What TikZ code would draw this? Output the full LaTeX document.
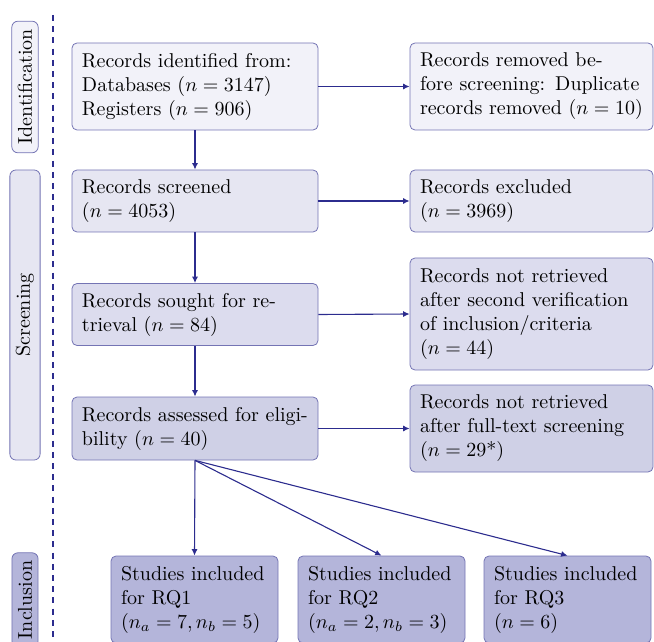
\documentclass[tikz,border=0pt]{standalone}
\usetikzlibrary{arrows.meta,positioning}

\definecolor{frame}{HTML}{7474B4}
\definecolor{link}{HTML}{2C2C8E}
\definecolor{stageA}{HTML}{F2F2F9}
\definecolor{stageB}{HTML}{E6E6F2}
\definecolor{stageC}{HTML}{DCDCEE}
\definecolor{stageD}{HTML}{CFD0E6}
\definecolor{stageE}{HTML}{B4B5DA}

\tikzset{
  box/.style={draw=frame,rounded corners=2.5pt,align=left,inner xsep=5pt,inner ysep=4pt},
  leftbox/.style={box,text width=113pt},
  rightbox/.style={box,text width=111.5pt},
  rqbox/.style={box,text width=73.5pt,fill=stageE,minimum height=43.5pt},
  phase/.style={draw=frame,rounded corners=3pt,rotate=90,inner xsep=4pt,inner ysep=3pt},
  flow/.style={draw=link,line width=0.55pt,-{Latex[length=3.2pt,width=3pt]}}
}

\begin{document}
\begin{tikzpicture}[x=0.5pt,y=-0.5pt]
\useasboundingbox (0,0) rectangle (654,642);
% stage labels and divider
\node[phase,fill=stageA] (idlabel) at (25,87) {Identification};
\node[phase,fill=stageB,minimum width=145pt] (scrlabel) at (25,315) {Screening};
\node[phase,fill=stageE] (inclabel) at (25,600) {Inclusion};
\coordinate (divtop) at (53,15);
\coordinate (divbot) at (53,642);
\draw[link,line width=0.8pt,dash pattern=on 3pt off 2.6pt] (divtop) -- (divbot);
% main column
\node[leftbox,fill=stageA,minimum height=43.5pt] (ident) at (195,86.5) {Records identified from:\\Databases ($n=3147$)\\Registers ($n=906$)};
\node[leftbox,fill=stageB,minimum height=31pt] (screened) at (195,201) {Records screened\\($n=4053$)};
\node[leftbox,fill=stageC,minimum height=31pt] (sought) at (195,314.5) {Records sought for re-\\trieval ($n=84$)};
\node[leftbox,fill=stageD,minimum height=31.5pt] (assessed) at (195,428.5) {Records assessed for eligi-\\bility ($n=40$)};
% side column
\node[rightbox,fill=stageA,minimum height=43.5pt] (removed) at (531.5,86.5) {Records removed be-\\fore screening: Duplicate\\records removed ($n=10$)};
\node[rightbox,fill=stageB,minimum height=31pt] (excluded) at (531.5,201) {Records excluded\\($n=3969$)};
\node[rightbox,fill=stageC,minimum height=56pt] (notfound) at (531.5,314) {Records not retrieved\\after second verification\\of inclusion/criteria\\($n=44$)};
\node[rightbox,fill=stageD,minimum height=43.5pt] (fulltext) at (531.5,428.5) {Records not retrieved\\after full-text screening\\($n=29$*)};
% included studies
\node[rqbox] (rq1) at (194.5,599.5) {Studies included\\for RQ1\\($n_a=7,n_b=5$)};
\node[rqbox] (rq2) at (381.5,599.5) {Studies included\\for RQ2\\($n_a=2,n_b=3$)};
\node[rqbox] (rq3) at (567.5,599.5) {Studies included\\for RQ3\\($n=6$)};
% arrows
\draw[flow] (ident) -- (screened);
\draw[flow] (screened) -- (sought);
\draw[flow] (sought) -- (assessed);
\draw[flow] (ident) -- (removed);
\draw[flow] (screened) -- (excluded);
\draw[flow] (sought.east) -- (notfound.west);
\draw[flow] (assessed) -- (fulltext);
\draw[flow] (assessed.south) -- (rq1.north);
\draw[flow] (assessed.south) -- (rq2.north);
\draw[flow] (assessed.south) -- (rq3.north);
\end{tikzpicture}
\end{document}
